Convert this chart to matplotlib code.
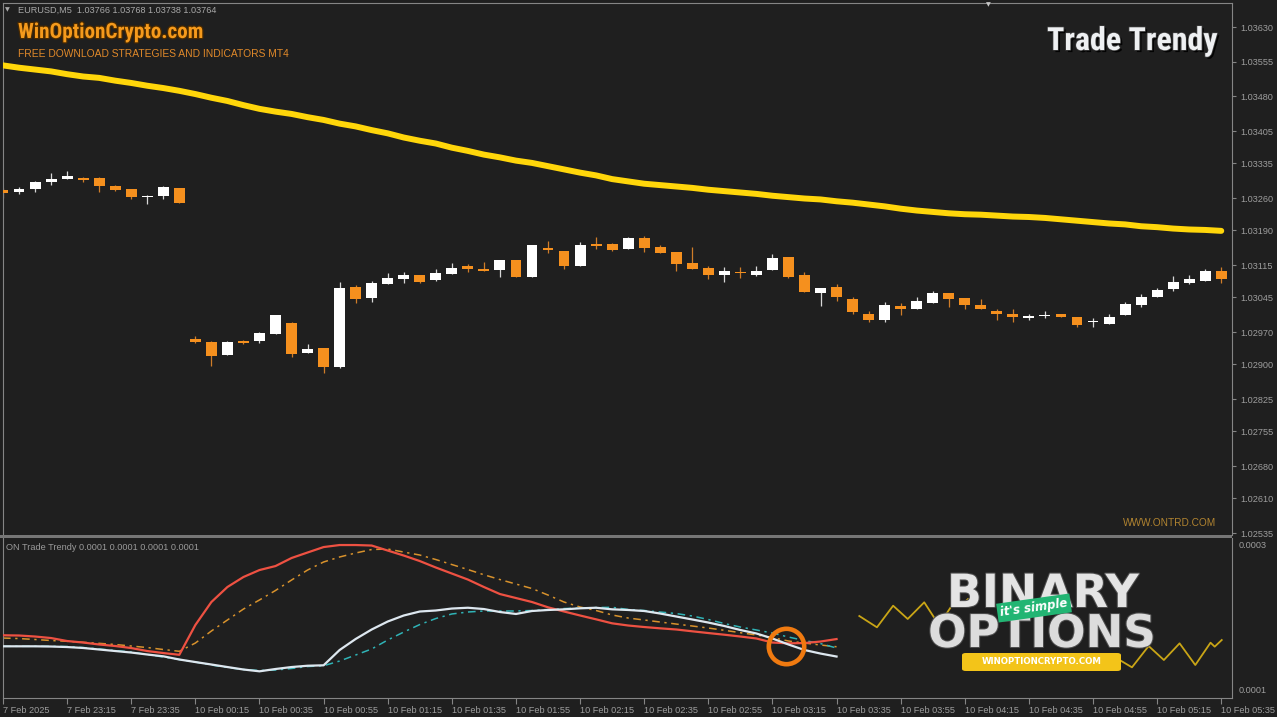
import matplotlib
matplotlib.use("Agg")
import matplotlib.pyplot as plt
import matplotlib.patheffects as pe
from matplotlib.patches import Rectangle, FancyBboxPatch
import numpy as np

W, H = 1277, 717

# ---------------- data ----------------
time_labels = ["7 Feb 2025", "7 Feb 23:15", "7 Feb 23:35", "10 Feb 00:15", "10 Feb 00:35",
               "10 Feb 00:55", "10 Feb 01:15", "10 Feb 01:35", "10 Feb 01:55", "10 Feb 02:15",
               "10 Feb 02:35", "10 Feb 02:55", "10 Feb 03:15", "10 Feb 03:35", "10 Feb 03:55",
               "10 Feb 04:15", "10 Feb 04:35", "10 Feb 04:55", "10 Feb 05:15", "10 Feb 05:35"]

price_ticks = [1.03630, 1.03555, 1.03480, 1.03405, 1.03335, 1.03260, 1.03190, 1.03115,
               1.03045, 1.02970, 1.02900, 1.02825, 1.02755, 1.02680, 1.02610, 1.02535]

opens = [1.03277, 1.03273, 1.03280, 1.03294, 1.03301, 1.03304, 1.03304, 1.03286, 1.03280, 1.03262,
         1.03265, 1.03282, 1.02956, 1.02949, 1.02920, 1.02951, 1.02950, 1.02966, 1.02989, 1.02924,
         1.02935, 1.02894, 1.03067, 1.03043, 1.03074, 1.03085, 1.03094, 1.03083, 1.03096, 1.03113,
         1.03106, 1.03104, 1.03127, 1.03090, 1.03153, 1.03145, 1.03112, 1.03160, 1.03160, 1.03150,
         1.03173, 1.03154, 1.03143, 1.03119, 1.03108, 1.03093, 1.03101, 1.03094, 1.03104, 1.03132,
         1.03093, 1.03054, 1.03067, 1.03041, 1.03010, 1.02996, 1.03026, 1.03021, 1.03033, 1.03054,
         1.03044, 1.03028, 1.03016, 1.03009, 1.03001, 1.03004, 1.03010, 1.03003, 1.02991, 1.02987,
         1.03006, 1.03028, 1.03046, 1.03063, 1.03076, 1.03081, 1.03102]
highs = [1.03282, 1.03284, 1.03297, 1.03314, 1.03318, 1.03306, 1.03306, 1.03288, 1.03280, 1.03267,
         1.03286, 1.03282, 1.02961, 1.02951, 1.02951, 1.02953, 1.02971, 1.03008, 1.02992, 1.02944,
         1.02935, 1.03078, 1.03071, 1.03081, 1.03098, 1.03101, 1.03094, 1.03106, 1.03119, 1.03117,
         1.03122, 1.03127, 1.03127, 1.03158, 1.03168, 1.03145, 1.03165, 1.03175, 1.03163, 1.03175,
         1.03178, 1.03158, 1.03143, 1.03155, 1.03113, 1.03111, 1.03111, 1.03113, 1.03140, 1.03132,
         1.03099, 1.03065, 1.03073, 1.03046, 1.03015, 1.03036, 1.03032, 1.03045, 1.03059, 1.03054,
         1.03044, 1.03041, 1.03020, 1.03021, 1.03010, 1.03015, 1.03010, 1.03003, 1.03000, 1.03009,
         1.03036, 1.03052, 1.03065, 1.03091, 1.03093, 1.03106, 1.03111]
lows = [1.03260, 1.03269, 1.03273, 1.03288, 1.03301, 1.03295, 1.03273, 1.03275, 1.03258, 1.03247,
        1.03258, 1.03249, 1.02946, 1.02896, 1.02920, 1.02944, 1.02946, 1.02966, 1.02916, 1.02924,
        1.02881, 1.02892, 1.03032, 1.03036, 1.03074, 1.03076, 1.03077, 1.03081, 1.03096, 1.03101,
        1.03103, 1.03090, 1.03090, 1.03089, 1.03142, 1.03107, 1.03112, 1.03150, 1.03145, 1.03150,
        1.03144, 1.03141, 1.03102, 1.03107, 1.03084, 1.03079, 1.03088, 1.03091, 1.03104, 1.03087,
        1.03057, 1.03026, 1.03037, 1.03009, 1.02991, 1.02992, 1.03006, 1.03021, 1.03033, 1.03025,
        1.03019, 1.03021, 1.02996, 1.02992, 1.02996, 1.03000, 1.03002, 1.02980, 1.02980, 1.02987,
        1.03006, 1.03025, 1.03046, 1.03058, 1.03073, 1.03081, 1.03076]
closes = [1.03271, 1.03279, 1.03295, 1.03301, 1.03308, 1.03299, 1.03286, 1.03277, 1.03263, 1.03265,
          1.03284, 1.03249, 1.02948, 1.02918, 1.02948, 1.02946, 1.02968, 1.03008, 1.02923, 1.02933,
          1.02894, 1.03065, 1.03041, 1.03076, 1.03088, 1.03093, 1.03079, 1.03097, 1.03108, 1.03106,
          1.03103, 1.03127, 1.03090, 1.03158, 1.03147, 1.03113, 1.03158, 1.03156, 1.03147, 1.03173,
          1.03152, 1.03141, 1.03118, 1.03107, 1.03093, 1.03103, 1.03098, 1.03103, 1.03131, 1.03090,
          1.03057, 1.03065, 1.03045, 1.03013, 1.02996, 1.03028, 1.03021, 1.03037, 1.03054, 1.03042,
          1.03028, 1.03021, 1.03009, 1.03003, 1.03003, 1.03008, 1.03003, 1.02985, 1.02994, 1.03003,
          1.03030, 1.03046, 1.03062, 1.03078, 1.03084, 1.03102, 1.03084]

# thick yellow moving average
ma_line = [1.03547, 1.03542, 1.03538, 1.03534, 1.03528, 1.03523, 1.03520, 1.03514, 1.03509, 1.03503,
           1.03498, 1.03492, 1.03485, 1.03477, 1.03470, 1.03461, 1.03453, 1.03447, 1.03442, 1.03435,
           1.03429, 1.03421, 1.03415, 1.03407, 1.03400, 1.03391, 1.03384, 1.03378, 1.03369, 1.03362,
           1.03354, 1.03348, 1.03341, 1.03336, 1.03329, 1.03322, 1.03315, 1.03309, 1.03301, 1.03296,
           1.03291, 1.03288, 1.03285, 1.03282, 1.03278, 1.03275, 1.03272, 1.03269, 1.03265, 1.03262,
           1.03259, 1.03257, 1.03253, 1.03250, 1.03246, 1.03242, 1.03237, 1.03233, 1.03230, 1.03227,
           1.03225, 1.03224, 1.03222, 1.03220, 1.03219, 1.03217, 1.03214, 1.03211, 1.03208, 1.03205,
           1.03203, 1.03199, 1.03197, 1.03194, 1.03192, 1.03191, 1.03189]

# ON Trade Trendy buffers (units of 0.0001)
trend_red = [1.755, 1.752, 1.738, 1.717, 1.676, 1.655, 1.628, 1.607, 1.579, 1.538, 1.510, 1.486,
             1.897, 2.214, 2.421, 2.559, 2.655, 2.710, 2.821, 2.897, 2.972, 3.000, 3.000, 2.993,
             2.924, 2.855, 2.779, 2.690, 2.607, 2.524, 2.421, 2.324, 2.269, 2.214, 2.141, 2.083,
             2.028, 1.975, 1.920, 1.890, 1.869, 1.851, 1.835, 1.810, 1.786, 1.763, 1.738, 1.711,
             1.655, 1.644, 1.648, 1.669, 1.703]
trend_orange = [1.717, 1.710, 1.697, 1.683, 1.672, 1.658, 1.644, 1.628, 1.607, 1.586, 1.559, 1.534,
                1.648, 1.814, 1.966, 2.117, 2.242, 2.373, 2.517, 2.655, 2.766, 2.835, 2.890, 2.938,
                2.945, 2.903, 2.862, 2.800, 2.731, 2.662, 2.590, 2.524, 2.462, 2.400, 2.310, 2.214,
                2.145, 2.097, 2.035, 1.993, 1.966, 1.938, 1.910, 1.883, 1.855, 1.824, 1.791, 1.759,
                1.724, 1.676, 1.648, 1.621, 1.597]
trend_white = [1.603, 1.603, 1.603, 1.600, 1.593, 1.580, 1.559, 1.538, 1.517, 1.490, 1.465, 1.421,
               1.386, 1.352, 1.317, 1.283, 1.258, 1.290, 1.317, 1.335, 1.341, 1.552, 1.704, 1.835,
               1.945, 2.028, 2.083, 2.097, 2.124, 2.135, 2.117, 2.076, 2.049, 2.090, 2.104, 2.113,
               2.127, 2.135, 2.113, 2.104, 2.090, 2.055, 2.014, 1.973, 1.931, 1.883, 1.828, 1.780,
               1.711, 1.628, 1.552, 1.503, 1.462]
trend_cyan = [1.603, 1.603, 1.603, 1.603, 1.600, 1.586, 1.566, 1.545, 1.524, 1.490, 1.455, 1.421,
              1.386, 1.345, 1.310, 1.283, 1.269, 1.276, 1.297, 1.324, 1.335, 1.400, 1.483, 1.566,
              1.690, 1.800, 1.903, 1.986, 2.049, 2.076, 2.090, 2.090, 2.090, 2.097, 2.111, 2.124,
              2.131, 2.138, 2.141, 2.111, 2.097, 2.076, 2.055, 2.021, 1.973, 1.917, 1.869, 1.828,
              1.786, 1.731, 1.683, 1.641, 1.579]

# logo zigzag pieces (bar index, value in 0.0001)
zig_left_x = [53.42, 54.52, 55.53, 56.44, 57.47, 58.39, 59.35, 59.74, 60.2]
zig_left_y = [2.021, 1.865, 2.163, 1.980, 2.210, 1.897, 2.218, 2.159, 2.255]
zig_right_x = [69.66, 70.43, 71.47, 72.42, 73.4, 74.38, 75.33, 75.59, 76.03]
zig_right_y = [1.414, 1.313, 1.607, 1.414, 1.644, 1.345, 1.653, 1.598, 1.690]

circle_bar, circle_val = 48.85, 1.607

# ---------------- styling ----------------
BG = "#1f1f1f"
GRID = "#858585"
TXT = "#9d9d9d"
BULL = "#ffffff"
BEAR = "#f5901e"
SMALL = ["Liberation Sans", "DejaVu Sans"]
HEAVY = ["Roboto Condensed", "Liberation Sans", "DejaVu Sans"]


def fx(x):
    return x / W


def fy(y):
    return 1 - y / H


fig = plt.figure(figsize=(W / 100, H / 100), dpi=100, facecolor=BG)
ax = fig.add_axes([fx(3), fy(535), fx(1232) - fx(3), fy(3) - fy(535)], facecolor=BG)
ax2 = fig.add_axes([fx(3), fy(698), fx(1232) - fx(3), fy(538) - fy(698)], facecolor=BG)

bars = np.arange(len(opens))
o = np.array(opens)
c = np.array(closes)
up = c >= o
cols = [BULL if u else BEAR for u in up]
wick_cols = ["#d8d8d8" if u else "#cf7d28" for u in up]

# candles
ax.vlines(bars, lows, highs, colors=wick_cols, linewidth=0.9, zorder=2)
body = np.maximum(np.abs(c - o), 0.00003)
ax.bar(bars, body, bottom=np.minimum(o, c), width=0.68, color=cols, linewidth=0, zorder=3)

ax.plot(np.arange(len(ma_line)), ma_line, color="#ffd60a", lw=4.3, solid_capstyle="round", zorder=4)

ax.set_xlim(0, 76.67)
ax.set_ylim(1.02531, 1.03682)
ax.yaxis.tick_right()
ax.set_yticks(price_ticks)
ax.set_yticklabels(["%.5f" % v for v in price_ticks])
ax.set_xticks([])
ax.tick_params(axis="y", length=3, color=GRID, labelcolor=TXT, labelsize=6.6, pad=3)
for lab in ax.get_yticklabels():
    lab.set_family(SMALL)
for s in ["left", "top", "right"]:
    ax.spines[s].set_color(GRID)
ax.spines["bottom"].set_visible(False)

# indicator panel
ib = np.arange(len(trend_red))
sc = 1e-4
ax2.plot(ib, np.array(trend_orange) * sc, color="#d8922c", lw=1.1, ls=(0, (5, 3, 1.5, 3)), zorder=2)
ax2.plot(ib, np.array(trend_cyan) * sc, color="#2fb3b6", lw=1.1, ls=(0, (5, 3, 1.5, 3)), zorder=2)
ax2.plot(ib, np.array(trend_red) * sc, color="#ee5142", lw=1.6, zorder=3)
ax2.plot(ib, np.array(trend_white) * sc, color="#dde7ef", lw=1.6, zorder=3)
ax2.plot(zig_left_x, np.array(zig_left_y) * sc, color="#c9a516", lw=1.3, zorder=2)
ax2.plot(zig_right_x, np.array(zig_right_y) * sc, color="#c9a516", lw=1.3, zorder=2)
ax2.plot([circle_bar], [circle_val * sc], marker="o", ms=25.5, mfc="none", mec="#f07a10", mew=3.3, zorder=5)

ax2.set_xlim(0, 76.67)
ax2.set_ylim(0.890e-4, 3.097e-4)
ax2.yaxis.tick_right()
ax2.set_yticks([3e-4, 1e-4])
ax2.set_yticklabels(["0.0003", "0.0001"])
ax2.set_xticks(np.arange(0, 77, 4))
ax2.set_xticklabels(time_labels)
ax2.tick_params(axis="y", length=0, labelcolor=TXT, labelsize=6.6, pad=5)
ax2.tick_params(axis="x", length=4, color=GRID, labelcolor=TXT, labelsize=6.6, pad=1.5)
for lab in ax2.get_xticklabels():
    lab.set_horizontalalignment("left")
    lab.set_family(SMALL)
for lab in ax2.get_yticklabels():
    lab.set_family(SMALL)
    lab.set_verticalalignment("center")
for s in ["left", "bottom", "right"]:
    ax2.spines[s].set_color(GRID)
ax2.spines["top"].set_visible(False)

# separator strip between the panels
fig.patches.append(Rectangle((0, fy(538)), fx(1232), fy(535) - fy(538), transform=fig.transFigure,
                             facecolor="#767676", edgecolor="none", zorder=5))

# header texts
fig.text(fx(5), fy(9.5), "\u25bc", color="#a8a8a8", fontsize=4.5, va="center", family="DejaVu Sans")
fig.text(fx(18), fy(10), "EURUSD,M5  1.03766 1.03768 1.03738 1.03764", color="#a8a8a8",
         fontsize=6.6, va="center", family=SMALL)
fig.text(fx(988), fy(5), "\u25bc", color="#c8c8c8", fontsize=4.5, va="center", ha="center",
         family="DejaVu Sans")
fig.text(fx(18), fy(38), "WinOptionCrypto.com", color="#f59a1c", fontsize=15.2, fontweight="bold",
         family=HEAVY, va="baseline",
         path_effects=[pe.withStroke(linewidth=1.8, foreground="#4a2a00")])
fig.text(fx(18), fy(57), "FREE DOWNLOAD STRATEGIES AND INDICATORS MT4", color="#e0892a",
         fontsize=7.4, family=SMALL, va="baseline")
fig.text(fx(1218), fy(50), "Trade Trendy", color="#eef0f2", fontsize=23, fontweight="bold",
         family=HEAVY, ha="right", va="baseline",
         path_effects=[pe.withSimplePatchShadow(offset=(1.5, -1.5), shadow_rgbFace="#000000", alpha=0.9),
                       pe.withStroke(linewidth=1.2, foreground="#3a3a3a")])
fig.text(fx(1216), fy(526), "WWW.ONTRD.COM", color="#b08330", fontsize=7.3, family=SMALL,
         ha="right", va="baseline")
fig.text(fx(6), fy(549.5), "ON Trade Trendy 0.0001 0.0001 0.0001 0.0001", color="#9a9a9a",
         fontsize=6.6, family=SMALL, va="baseline")

# binary options logo
logo_fx = [pe.withStroke(linewidth=1.5, foreground="#4d4d4d")]
fig.text(fx(1043), fy(607), "BINARY", color="#e4e4e4", fontsize=33, fontweight="bold",
         family="DejaVu Sans", ha="center", va="baseline", path_effects=logo_fx, zorder=6)
fig.text(fx(1042), fy(647), "OPTIONS", color="#dcdcdc", fontsize=32.5, fontweight="bold",
         family="DejaVu Sans", ha="center", va="baseline", path_effects=logo_fx, zorder=6)
fig.text(fx(1034), fy(608), "it's simple", color="white", fontsize=8.5, fontweight="bold",
         fontstyle="italic", family="DejaVu Sans", ha="center", va="center", rotation=8, zorder=8,
         bbox=dict(boxstyle="square,pad=0.25", facecolor="#22b573", edgecolor="none"))
fig.patches.append(FancyBboxPatch((fx(962), fy(671)), fx(1121) - fx(962), fy(653) - fy(671),
                                  boxstyle="round,pad=0,rounding_size=0.003", transform=fig.transFigure,
                                  facecolor="#f3c419", edgecolor="none", zorder=7))
fig.text(fx(1041.5), fy(662), "WINOPTIONCRYPTO.COM", color="white", fontsize=6.2, fontweight="bold",
         family="DejaVu Sans", ha="center", va="center", zorder=8)

fig.savefig("out.png", dpi=100, facecolor=BG)
